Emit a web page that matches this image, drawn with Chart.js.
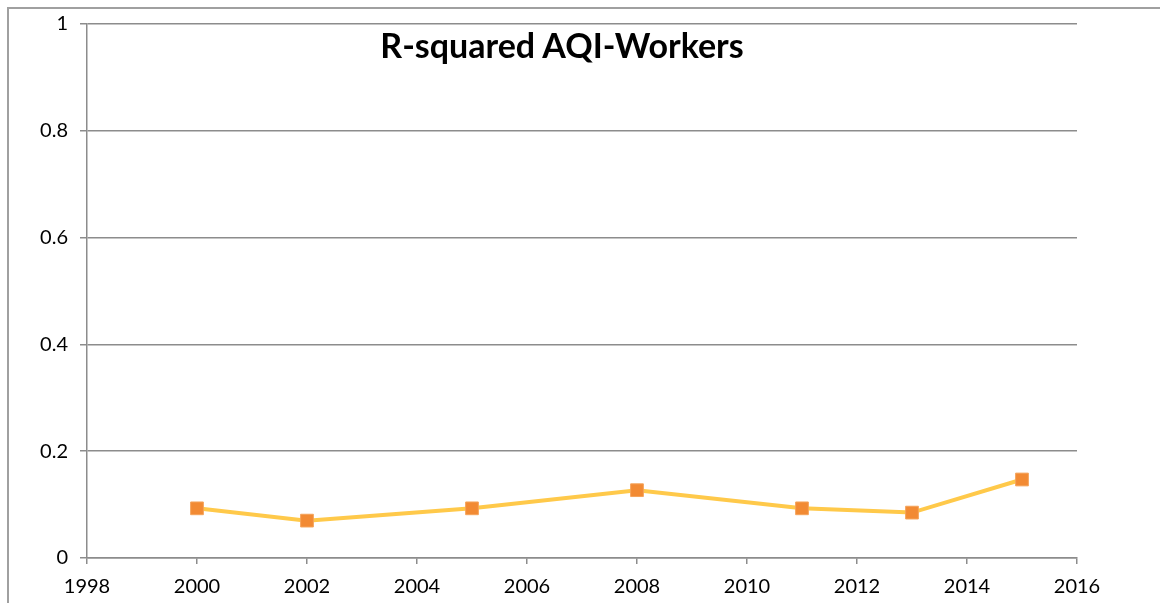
<!DOCTYPE html>
<html>
<head>
<meta charset="utf-8">
<script src="https://cdn.jsdelivr.net/npm/chart.js@4/dist/chart.umd.min.js"></script>
<style>
  html, body { margin: 0; padding: 0; background: #fff; }
  #wrap { position: relative; width: 1160px; height: 603px; }
  #frame { position: absolute; left: 7px; top: 7px; right: 0; bottom: 0;
           border-top: 2px solid #a0a0a0; border-left: 2px solid #a0a0a0; pointer-events: none; }
  #titulo { position: absolute; left: 0; width: 1124px; top: 24px; text-align: center;
            font-family: Lato, sans-serif; font-weight: bold; font-size: 34px; color: #000; }
</style>
</head>
<body>
<div id="wrap">
  <canvas id="myChart" width="1160" height="603"></canvas>
  <div id="frame"></div>
  <div id="titulo">R-squared AQI-Workers</div>
</div>
<script>
// datos
const anios = [2000, 2002, 2005, 2008, 2011, 2013, 2015];
const rCuadrado = [0.093, 0.070, 0.093, 0.127, 0.093, 0.085, 0.147];
const ticksX = [1998, 2000, 2002, 2004, 2006, 2008, 2010, 2012, 2014, 2016];
const ticksY = [0, 0.2, 0.4, 0.6, 0.8, 1];

const puntos = anios.map(function (a, i) { return { x: a, y: rCuadrado[i] }; });

const fuente = { family: 'Lato, sans-serif', size: 20 };
const gris = '#8c8c8c';

const ctx = document.getElementById('myChart').getContext('2d');
const myChart = new Chart(ctx, {
    type: 'line',
    data: {
        datasets: [{
            label: 'R-squared',
            data: puntos,
            borderColor: '#ffc94a',
            borderWidth: 4,
            pointStyle: 'rect',
            pointRadius: 9,
            pointBackgroundColor: '#f28a33',
            pointBorderColor: '#f5a35a',
            pointBorderWidth: 1,
            tension: 0
        }]
    },
    options: {
        responsive: false,
        animation: false,
        layout: { padding: { top: 23, right: 83, left: 0, bottom: 0 } },
        plugins: {
            legend: { display: false },
            tooltip: { enabled: false }
        },
        scales: {
            x: {
                type: 'linear',
                min: ticksX[0],
                max: ticksX[ticksX.length - 1],
                afterBuildTicks: function (scale) {
                    scale.ticks = ticksX.map(function (v) { return { value: v }; });
                },
                afterFit: function (scale) { scale.height = 45; },
                grid: { drawOnChartArea: false, drawTicks: true, tickLength: 6, color: gris, lineWidth: 1.5 },
                border: { color: gris, width: 1.5 },
                ticks: {
                    color: '#000',
                    font: fuente,
                    padding: 11,
                    maxRotation: 0,
                    callback: function (v) { return String(v); }
                }
            },
            y: {
                min: 0,
                max: 1,
                afterBuildTicks: function (scale) {
                    scale.ticks = ticksY.map(function (v) { return { value: v }; });
                },
                afterFit: function (scale) { scale.width = 87; },
                grid: { color: gris, lineWidth: 1.5, tickLength: 7 },
                border: { color: gris, width: 1.5 },
                ticks: {
                    color: '#000',
                    font: fuente,
                    padding: 12,
                    callback: function (v) { return String(v); }
                }
            }
        }
    }
});
</script>
</body>
</html>
